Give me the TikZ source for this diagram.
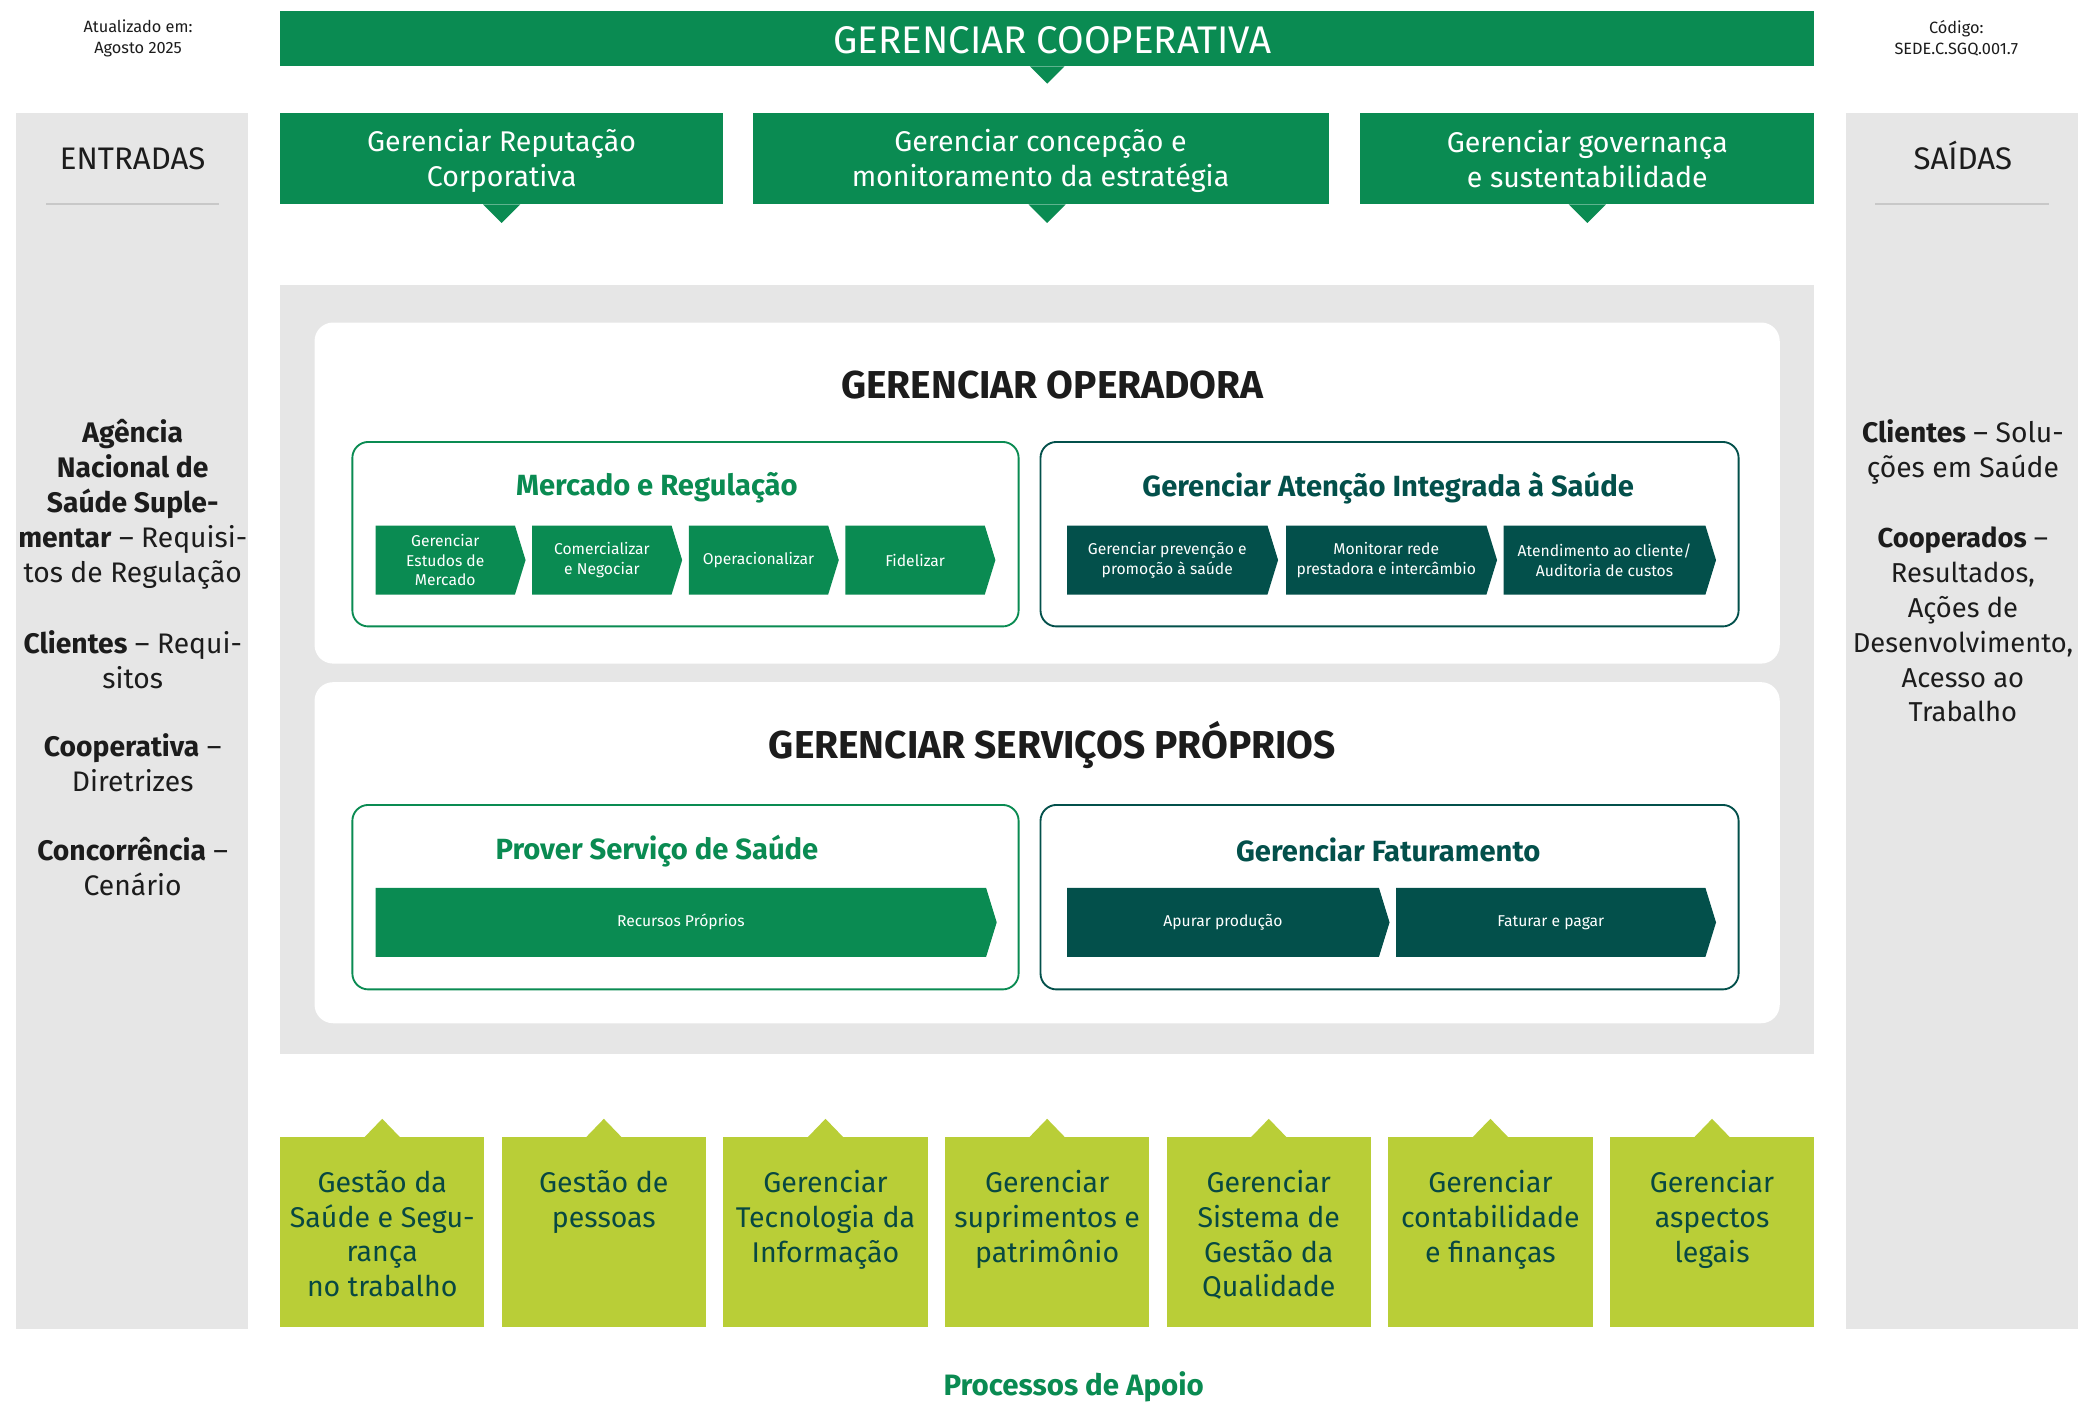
\documentclass[tikz,border=0pt]{standalone}
\usepackage{fontspec}
\setmainfont{Fira Sans}
\definecolor{ugreen}{RGB}{10,139,82}
\definecolor{uteal}{RGB}{3,80,75}
\definecolor{ulime}{RGB}{185,206,55}
\definecolor{ugray}{RGB}{230,230,230}
\definecolor{uline}{RGB}{200,200,200}
\definecolor{utxt}{RGB}{28,28,28}
\definecolor{ubtxt}{RGB}{8,72,66}
\newcommand\mychev[7]{%
  \fill[#6] (#2,#4) -- ({#3-8},#4) -- (#3,{(#4+#5)/2}) -- ({#3-8},#5) -- (#2,#5) -- cycle;
  \node[chevtext] (#1) at ({(#2+#3-8)/2},{(#4+#5)/2}) {#7};}
\begin{document}
\begin{tikzpicture}[x=1pt,y=-1pt,
  chevtext/.style={text=white,align=center,font=\fontsize{11.8}{15}\selectfont,inner sep=0},
  infotext/.style={text=utxt,align=center,font=\fontsize{12.3}{16}\selectfont,inner sep=0},
  panel/.style={fill=ugray,draw=none,inner sep=0},
  sidehead/.style={text=utxt,font=\fontsize{23.5}{28}\selectfont,inner sep=0},
  sidetext/.style={text=utxt,align=center,font=\fontsize{21.3}{26.3}\selectfont,inner sep=0},
  topbox/.style={fill=ugreen,text=white,align=center,font=\fontsize{21.5}{26.3}\selectfont,inner sep=0},
  whitebox/.style={fill=white,draw=none,rounded corners=14pt,inner sep=0},
  gbox/.style={fill=white,draw=ugreen,line width=1.4pt,rounded corners=12pt,inner sep=0},
  tbox/.style={fill=white,draw=uteal,line width=1.4pt,rounded corners=12pt,inner sep=0},
  bigtitle/.style={text=utxt,font=\bfseries\fontsize{29.3}{34}\selectfont,inner sep=0},
  subtitle/.style={font=\bfseries\fontsize{22}{26}\selectfont,inner sep=0},
  supbox/.style={fill=ulime,inner sep=0,minimum width=154pt,minimum height=143pt},
  supnode/.style={text=ubtxt,align=center,font=\fontsize{21.5}{26.3}\selectfont,inner sep=0},
]
\useasboundingbox (0,0) rectangle (1568,1056.4);
\fill[white] (0,0) rectangle (1568,1056.4);

% header info
\node[infotext] (upd) at (104,29) {Atualizado em:\\Agosto 2025};
\node[infotext] (cod) at (1474,29) {Código:\\SEDE.C.SGQ.001.7};

% top bar
\node[fill=ugreen,inner sep=0,minimum width=1156pt,minimum height=42pt] (coop) at (789,29) {};
\node[text=white,font=\fontsize{29}{34}\selectfont,inner sep=0] (cooptxt) at (793,30) {GERENCIAR COOPERATIVA};
\fill[ugreen] (776,50) -- (789,63) -- (802,50) -- cycle;

% side panels
\node[panel,minimum width=175pt,minimum height=916pt] (ent) at (99.5,543) {};
\node[panel,minimum width=175pt,minimum height=916pt] (sai) at (1478.5,543) {};
\node[sidehead] (enth) at (100,119.5) {ENTRADAS};
\node[sidehead] (saih) at (1479,117.5) {SAÍDAS};
\draw[uline,line width=1.5pt] (35,154) -- (165,154);
\draw[uline,line width=1.5pt] (1413,154) -- (1544,154);

\node[sidetext] (in1) at (100,380) {\textbf{Agência}\\\textbf{Nacional de}\\\textbf{Saúde Suple-}\\\textbf{mentar} – Requisi-\\tos de Regulação};
\node[sidetext] (in2) at (100,497) {\textbf{Clientes} – Requi-\\sitos};
\node[sidetext] (in3) at (100,575) {\textbf{Cooperativa} –\\Diretrizes};
\node[sidetext] (in4) at (100,653) {\textbf{Concorrência} –\\Cenário};

\node[sidetext] (out1) at (1479,340.5) {\textbf{Clientes} – Solu-\\ções em Saúde};
\node[sidetext,font=\fontsize{20.6}{26.3}\selectfont] (out2) at (1479,470.5) {\textbf{Cooperados} –\\Resultados,\\Ações de\\Desenvolvimento,\\Acesso ao\\Trabalho};

% three top process boxes
\node[fill=ugreen,inner sep=0,minimum width=334pt,minimum height=69pt] (rep) at (378,119.5) {};
\node[topbox,fill=none] (reptxt) at (378,121.5) {Gerenciar Reputação\\Corporativa};
\fill[ugreen] (364,154) -- (378,168) -- (392,154) -- cycle;
\node[fill=ugreen,inner sep=0,minimum width=434pt,minimum height=69pt] (est) at (784,119.5) {};
\node[topbox,fill=none] (esttxt) at (784,121.5) {Gerenciar concepção e\\monitoramento da estratégia};
\fill[ugreen] (775,154) -- (789,168) -- (803,154) -- cycle;
\node[fill=ugreen,inner sep=0,minimum width=342pt,minimum height=69pt] (gov) at (1196,119.5) {};
\node[topbox,fill=none] (govtxt) at (1196,119.5) {Gerenciar governança\\e sustentabilidade};
\fill[ugreen] (1182,154) -- (1196,168) -- (1210,154) -- cycle;

% central gray area
\node[panel,minimum width=1156pt,minimum height=579pt] (core) at (789,504.5) {};

% operadora
\node[whitebox,minimum width=1104pt,minimum height=257pt] (oper) at (789,371.5) {};
\node[bigtitle] (opertitle) at (793,290) {GERENCIAR OPERADORA};
\node[gbox,minimum width=502pt,minimum height=139pt] (merc) at (516.5,402.5) {};
\node[subtitle,text=ugreen] (merct) at (495,367.5) {Mercado e Regulação};
\mychev{c1}{283}{396}{396}{448}{ugreen}{Gerenciar\\Estudos de\\Mercado}
\mychev{c2}{401}{514}{396}{448}{ugreen}{Comercializar\\e Negociar}
\mychev{c3}{519}{632}{396}{448}{ugreen}{Operacionalizar}
\mychev{c4}{637}{750}{396}{448}{ugreen}{Fidelizar}

\node[tbox,minimum width=526pt,minimum height=139pt] (aten) at (1047,402.5) {};
\node[subtitle,text=uteal] (atent) at (1046,367.5) {Gerenciar Atenção Integrada à Saúde};
\mychev{a1}{804}{963}{396}{448}{uteal}{Gerenciar prevenção e\\promoção à saúde}
\mychev{a2}{969}{1128}{396}{448}{uteal}{Monitorar rede\\prestadora e intercâmbio}
\mychev{a3}{1133}{1293}{396}{448}{uteal}{Atendimento ao cliente/\\Auditoria de custos}

% servicos proprios
\node[whitebox,minimum width=1104pt,minimum height=257pt] (serv) at (789,642.5) {};
\node[bigtitle] (servtitle) at (793,561) {GERENCIAR SERVIÇOS PRÓPRIOS};
\node[gbox,minimum width=502pt,minimum height=139pt] (prov) at (516.5,676) {};
\node[subtitle,text=ugreen] (provt) at (495,641.5) {Prover Serviço de Saúde};
\mychev{p1}{283}{751}{669}{721}{ugreen}{Recursos Próprios}

\node[tbox,minimum width=526pt,minimum height=139pt] (fat) at (1047,676) {};
\node[subtitle,text=uteal] (fatt) at (1046,640.5) {Gerenciar Faturamento};
\mychev{f1}{804}{1047}{669}{721}{uteal}{Apurar produção}
\mychev{f2}{1052}{1293}{669}{721}{uteal}{Faturar e pagar}

% support processes
\foreach \cx/\nm in {288/s1,455/s2,622/s3,789/s4,956/s5,1123/s6,1290/s7}{
  \node[supbox] (\nm) at (\cx,928.5) {};
  \fill[ulime] ({\cx-14},857.5) -- (\cx,843) -- ({\cx+14},857.5) -- cycle;
}
\node[supnode] (t1) at (288,929.5) {Gestão da\\Saúde e Segu-\\rança\\no trabalho};
\node[supnode] (t2) at (455,906) {Gestão de\\pessoas};
\node[supnode] (t3) at (622,919) {Gerenciar\\Tecnologia da\\Informação};
\node[supnode] (t4) at (789,919) {Gerenciar\\suprimentos e\\patrimônio};
\node[supnode] (t5) at (956,930.5) {Gerenciar\\Sistema de\\Gestão da\\Qualidade};
\node[supnode] (t6) at (1123,919) {Gerenciar\\contabilidade\\e finanças};
\node[supnode] (t7) at (1290,919) {Gerenciar\\aspectos\\legais};

\node[text=ugreen,font=\bfseries\fontsize{22.2}{26}\selectfont,inner sep=0] (apoio) at (809,1045) {Processos de Apoio};
\end{tikzpicture}
\end{document}
